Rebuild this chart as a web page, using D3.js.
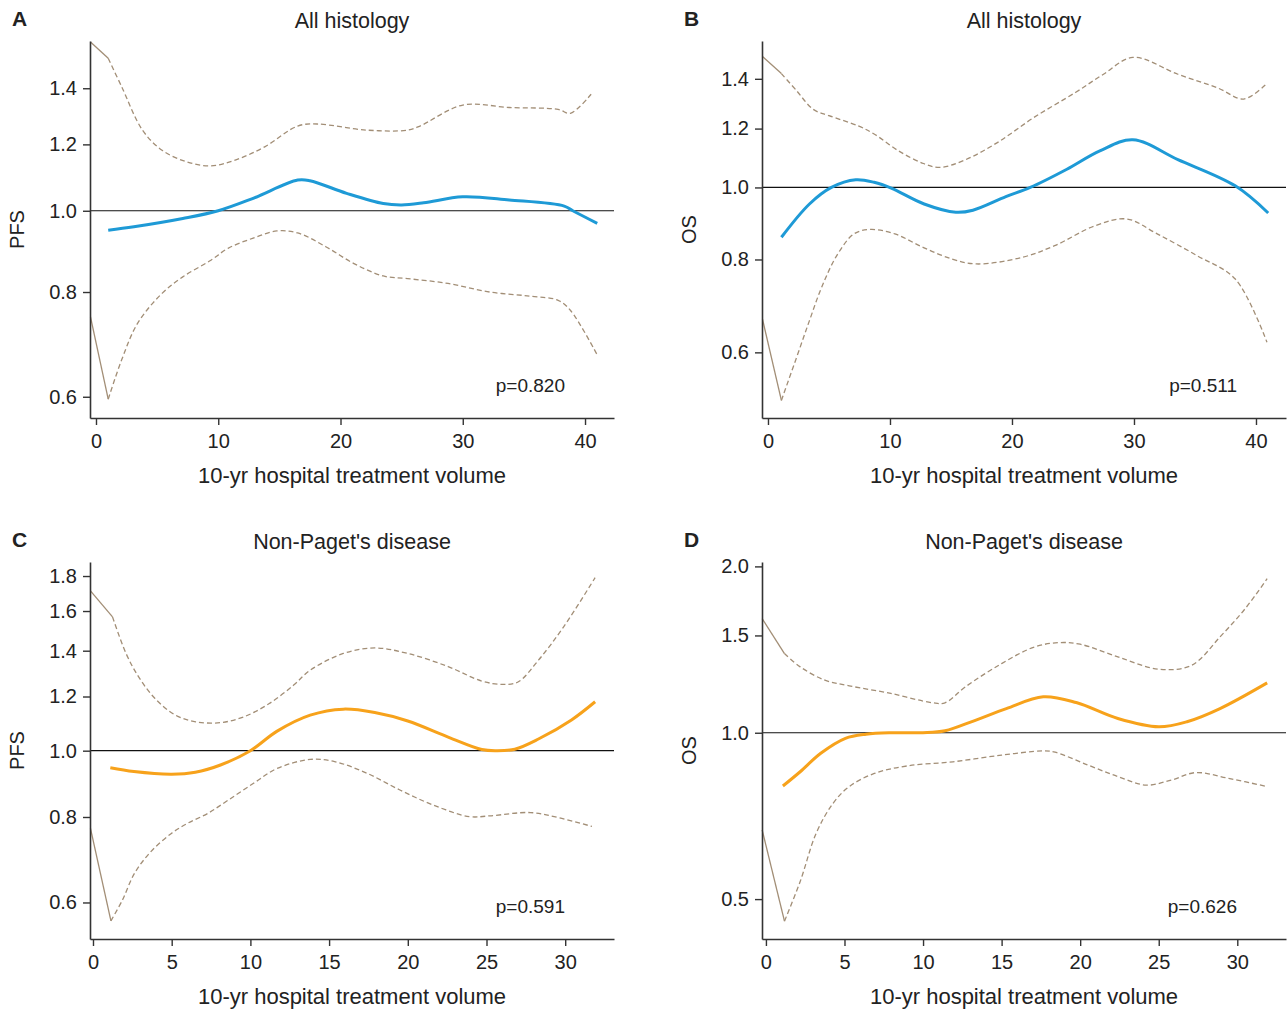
<!DOCTYPE html>
<html>
<head>
<meta charset="utf-8">
<script src="https://cdn.jsdelivr.net/npm/d3@7"></script>
<style>
  body { margin: 0; background: #fff; }
  text { font-family: "Liberation Sans", Arial, sans-serif; fill: #222; }
</style>
</head>
<body>
<div id="chart"></div>
<script>
// ---- data: [volume, hazard ratio] ----
const panelLetters = ["A", "B", "C", "D"];
const panelTitles = ["All histology", "All histology", "Non-Paget's disease", "Non-Paget's disease"];
const yTitles = ["PFS", "OS", "PFS", "OS"];
const pValues = ["p=0.820", "p=0.511", "p=0.591", "p=0.626"];
const xTicksAll = [0, 10, 20, 30, 40];
const xTicksNonPaget = [0, 5, 10, 15, 20, 25, 30];
const yTicksA = [0.6, 0.8, 1.0, 1.2, 1.4];
const yTicksB = [0.6, 0.8, 1.0, 1.2, 1.4];
const yTicksC = [0.6, 0.8, 1.0, 1.2, 1.4, 1.6, 1.8];
const yTicksD = [0.5, 1.0, 1.5, 2.0];

const estA = [[1,0.948],[3.1,0.957],[7.1,0.979],[10,1.0],[12.8,1.034],[16.5,1.088],[17.5,1.086],[20.5,1.049],
  [23.5,1.02],[25,1.016],[26.8,1.022],[30,1.039],[33.8,1.03],[38.3,1.013],[39,1.0],[41,0.966]];
const upA = [[-0.45,1.59],[1,1.52],[2.1,1.406],[3.8,1.248],[5.4,1.181],[7.4,1.144],[9.4,1.131],[11.5,1.151],
  [13.8,1.192],[16.5,1.262],[18.1,1.269],[22.1,1.248],[25.5,1.248],[26.5,1.262],[30,1.337],[33.8,1.328],
  [37.8,1.321],[38.8,1.307],[40.5,1.377]];
const loA = [[-0.45,0.747],[1,0.596],[2.1,0.664],[3.4,0.734],[5.4,0.797],[7.1,0.834],[9.4,0.873],[10.8,0.902],
  [12.8,0.927],[14.8,0.946],[16.5,0.941],[18.8,0.906],[21.1,0.865],[23.5,0.836],[25.5,0.83],[28.8,0.819],
  [32.2,0.8],[35.5,0.791],[37.8,0.782],[38.8,0.761],[41,0.673]];

const estB = [[1.1,0.857],[3.4,0.95],[5.2,1.0],[7.2,1.024],[8.7,1.016],[10.1,0.998],[12.8,0.95],[15.4,0.926],
  [16.8,0.932],[19.5,0.972],[21.5,1.0],[24.5,1.058],[27.2,1.12],[29.9,1.159],[33.6,1.09],[38.3,1.005],[41,0.924]];
const upB = [[-0.45,1.5],[1.1,1.423],[2.35,1.349],[3.7,1.274],[5,1.249],[7.4,1.21],[8.7,1.18],[10.7,1.12],
  [12.75,1.077],[14.1,1.064],[16.1,1.088],[18.8,1.149],[21.8,1.242],[25.2,1.342],[27.5,1.42],[29.9,1.496],
  [33.6,1.42],[36.9,1.36],[39,1.315],[40.9,1.38]];
const loB = [[-0.45,0.665],[1.1,0.517],[2.35,0.591],[3.4,0.662],[4.4,0.734],[5.7,0.813],[7.05,0.866],[8.4,0.878],
  [10.4,0.866],[12.75,0.83],[15.1,0.801],[17.1,0.789],[20.8,0.805],[23.5,0.835],[26.8,0.888],[29.4,0.907],
  [31.9,0.866],[35.2,0.809],[38.3,0.753],[40.9,0.619]];

const estC = [[1.1,0.944],[2.6,0.932],[5,0.924],[6.5,0.93],[8.1,0.953],[10,1.0],[11.7,1.068],[13.8,1.127],
  [15.9,1.15],[17.9,1.137],[20,1.105],[22.6,1.046],[24.7,1.004],[25.6,1.0],[26.8,1.005],[28.3,1.04],
  [30.4,1.109],[31.9,1.179]];
const upC = [[-0.16,1.712],[1.24,1.569],[2.1,1.387],[2.9,1.282],[3.94,1.192],[5.24,1.127],[6.53,1.102],[8.1,1.099],
  [9.6,1.121],[11.2,1.172],[12.75,1.247],[13.8,1.311],[15.9,1.387],[17.9,1.413],[20,1.387],[22.6,1.326],
  [24.7,1.264],[26,1.25],[27,1.26],[28.3,1.356],[29.9,1.517],[31.9,1.79]];
const loC = [[-0.16,0.77],[1.14,0.564],[1.87,0.605],[2.64,0.662],[3.68,0.712],[4.98,0.757],[6,0.783],[7.3,0.81],
  [8.6,0.847],[10.2,0.896],[11.7,0.942],[13.8,0.971],[15.35,0.964],[17.4,0.927],[19.5,0.876],[21.6,0.833],
  [23.9,0.801],[25.2,0.803],[27.8,0.812],[29.6,0.798],[31.7,0.775]];

const estD = [[1.08,0.801],[2.18,0.85],[3.49,0.918],[5.06,0.977],[6.37,0.994],[7.95,1.0],[10,1.0],[11.4,1.008],
  [13.2,1.05],[15.3,1.106],[17.65,1.162],[19.75,1.134],[22.4,1.061],[25,1.025],[26.8,1.047],[28.9,1.106],[31.9,1.231]];
const upD = [[-0.24,1.609],[1.18,1.391],[2.18,1.316],[3.75,1.245],[5.3,1.216],[7.95,1.178],[10.6,1.133],[11.4,1.133],
  [12.7,1.211],[15,1.334],[17.1,1.43],[18.7,1.456],[20,1.446],[22.4,1.372],[25,1.303],[27.1,1.325],
  [28.9,1.491],[30.5,1.677],[31.9,1.9]];
const loD = [[-0.24,0.667],[1.18,0.456],[2.18,0.538],[3.2,0.658],[4.27,0.745],[5.3,0.799],[6.9,0.844],[9,0.871],
  [11.9,0.886],[15,0.911],[17.65,0.927],[18.4,0.922],[20.5,0.874],[22.4,0.833],[24.2,0.804],[25.8,0.821],
  [27.35,0.847],[29.45,0.827],[31.9,0.799]];

// ---- layout ----
const W = 1288, H = 1011;
const panels = [
  {est: estA, up: upA, lo: loA, xTicks: xTicksAll, yTicks: yTicksA, color: "#1e9ad6",
   xDom: [-0.49, 42.37], yDom: [0.566, 1.594], left: 90, right: 614, top: 41, bottom: 418},
  {est: estB, up: upB, lo: loB, xTicks: xTicksAll, yTicks: yTicksB, color: "#1e9ad6",
   xDom: [-0.49, 42.46], yDom: [0.4896, 1.574], left: 762, right: 1286, top: 41, bottom: 418},
  {est: estC, up: upC, lo: loC, xTicks: xTicksNonPaget, yTicks: yTicksC, color: "#f7a21b",
   xDom: [-0.19, 33.1], yDom: [0.5306, 1.887], left: 90, right: 614, top: 562, bottom: 939},
  {est: estD, up: upD, lo: loD, xTicks: xTicksNonPaget, yTicks: yTicksD, color: "#f7a21b",
   xDom: [-0.25, 33.1], yDom: [0.4234, 2.037], left: 762, right: 1286, top: 562, bottom: 939}
];

const svg = d3.select("#chart").append("svg")
  .attr("width", W).attr("height", H);

const ciColor = "#a28e76";

panels.forEach((p, i) => {
  const x = d3.scaleLinear().domain(p.xDom).range([p.left, p.right]);
  const y = d3.scaleLog().domain(p.yDom).range([p.bottom, p.top]);
  const g = svg.append("g");
  const mid = (p.left + p.right) / 2;

  // panel letter and title
  g.append("text").attr("x", p.left - 78).attr("y", p.top - 15)
    .attr("font-size", 21).attr("font-weight", "bold").text(panelLetters[i]);
  g.append("text").attr("x", mid).attr("y", p.top - 13)
    .attr("text-anchor", "middle").attr("font-size", 21.5).text(panelTitles[i]);

  // reference line at 1
  g.append("line")
    .attr("x1", p.left).attr("x2", p.right)
    .attr("y1", y(1)).attr("y2", y(1))
    .attr("stroke", "#111").attr("stroke-width", 1.2);

  const line = d3.line().x(d => x(d[0])).y(d => y(d[1])).curve(d3.curveCatmullRom.alpha(0.5));

  // confidence band: short solid piece at the start, dashed afterwards
  [p.up, p.lo].forEach(band => {
    g.append("path").attr("d", d3.line().x(d => x(d[0])).y(d => y(d[1]))(band.slice(0, 2)))
      .attr("fill", "none").attr("stroke", ciColor).attr("stroke-width", 1.3);
    g.append("path").attr("d", line(band.slice(1)))
      .attr("fill", "none").attr("stroke", ciColor).attr("stroke-width", 1.3)
      .attr("stroke-dasharray", "5,3");
  });

  g.append("path").attr("d", line(p.est))
    .attr("fill", "none").attr("stroke", p.color).attr("stroke-width", 3);

  // axes
  const xAxis = g.append("g").attr("transform", `translate(0,${p.bottom})`)
    .call(d3.axisBottom(x).tickValues(p.xTicks).tickSize(7).tickPadding(9).tickSizeOuter(0));
  const yAxis = g.append("g").attr("transform", `translate(${p.left},0)`)
    .call(d3.axisLeft(y).tickValues(p.yTicks).tickFormat(d3.format(".1f")).tickSize(7).tickPadding(6).tickSizeOuter(0));
  [xAxis, yAxis].forEach(a => {
    a.select(".domain").attr("stroke", "#333").attr("stroke-width", 1.6);
    a.selectAll(".tick line").attr("stroke", "#333").attr("stroke-width", 1.4);
    a.selectAll(".tick text").attr("font-size", 20).attr("fill", "#222")
      .attr("font-family", "'Liberation Sans', Arial, sans-serif");
  });

  g.append("text").attr("x", mid).attr("y", p.bottom + 65)
    .attr("text-anchor", "middle").attr("font-size", 22).text("10-yr hospital treatment volume");

  g.append("text")
    .attr("transform", `translate(${p.left - 66},${(p.top + p.bottom) / 2}) rotate(-90)`)
    .attr("text-anchor", "middle").attr("font-size", 20).text(yTitles[i]);

  g.append("text").attr("x", p.right - 49).attr("y", p.bottom - 26)
    .attr("text-anchor", "end").attr("font-size", 19).text(pValues[i]);
});
</script>
</body>
</html>
